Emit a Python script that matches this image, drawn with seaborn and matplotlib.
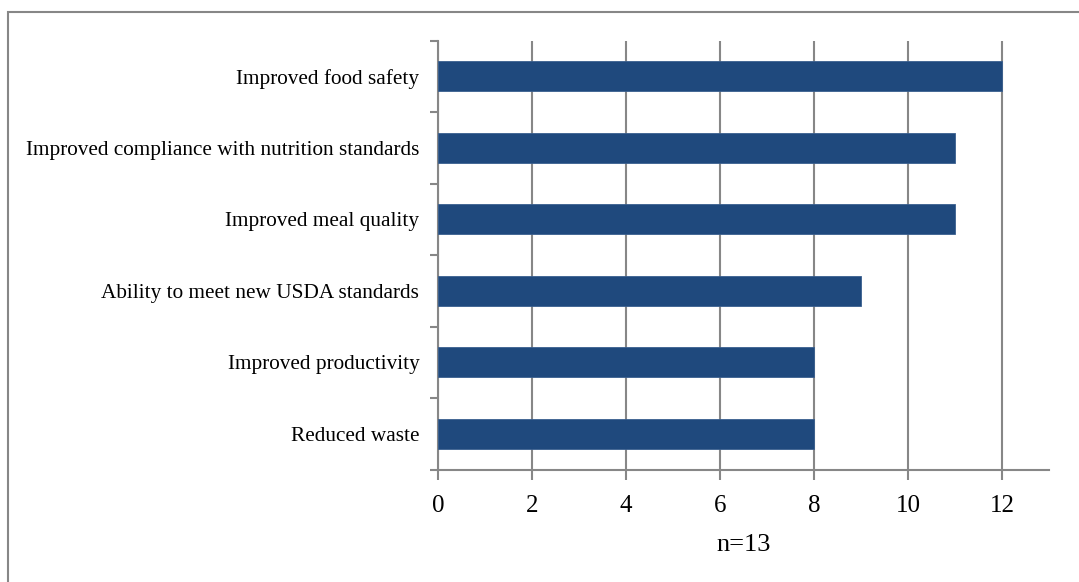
import matplotlib
matplotlib.use("Agg")
import matplotlib.pyplot as plt
from matplotlib.patches import Rectangle
from matplotlib.ticker import FixedLocator
import seaborn as sns
import pandas as pd

categories = [
    "Improved food safety",
    "Improved compliance with nutrition standards",
    "Improved meal quality",
    "Ability to meet new USDA standards",
    "Improved productivity",
    "Reduced waste",
]
counts = [12, 11, 11, 9, 8, 8]
x_ticks = [0, 2, 4, 6, 8, 10, 12]
note = "n=13"

df = pd.DataFrame({"benefit": categories, "count": counts})

sns.set_theme(style="white")
plt.rcParams["font.family"] = ["Liberation Serif", "DejaVu Serif"]

grid_col = "#878787"
bar_col = "#1F497D"

fig = plt.figure(figsize=(10.79, 5.82), dpi=100)
ax = fig.add_axes([438 / 1079, 1 - 469.5 / 582, (1049 - 438) / 1079, (469.5 - 40.5) / 582])

sns.barplot(data=df, x="count", y="benefit", orient="h", color=bar_col,
            saturation=1, width=0.42, edgecolor="#3a5f8f", linewidth=0.6,
            ax=ax, zorder=3)

ax.set_xlim(0, 13)
ax.set_ylim(len(categories) - 0.5, -0.5)
ax.set_xticks(x_ticks)
ax.set_xticklabels([str(t) for t in x_ticks], fontsize=18)
ax.xaxis.grid(True, color=grid_col, linewidth=1.5, zorder=0)
ax.yaxis.grid(False)
ax.set_axisbelow(True)

# category ticks sit on the boundaries between bars
ax.tick_params(axis="y", which="major", length=0, labelsize=15.3, pad=13.5,
               labelcolor="black")
ax.yaxis.set_minor_locator(FixedLocator([i - 0.5 for i in range(len(categories) + 1)]))
ax.tick_params(axis="y", which="minor", length=6, width=1.5, color=grid_col, left=True)
ax.tick_params(axis="x", which="major", length=7, width=1.5, color=grid_col,
               bottom=True, pad=11.5, labelcolor="black")

for side in ["top", "right"]:
    ax.spines[side].set_visible(False)
for side in ["left", "bottom"]:
    ax.spines[side].set_color(grid_col)
    ax.spines[side].set_linewidth(1.5)

ax.set_ylabel("")
ax.set_xlabel(note, fontsize=19, labelpad=12, color="black")

# outer frame of the chart area
fig.patches.append(Rectangle((7.5 / 1079, -0.05), 1.1, 1 - 11.5 / 582 + 0.05,
                             transform=fig.transFigure, fill=False,
                             edgecolor=grid_col, linewidth=1.5, clip_on=False))

fig.savefig("out.png", dpi=100, facecolor="white")
